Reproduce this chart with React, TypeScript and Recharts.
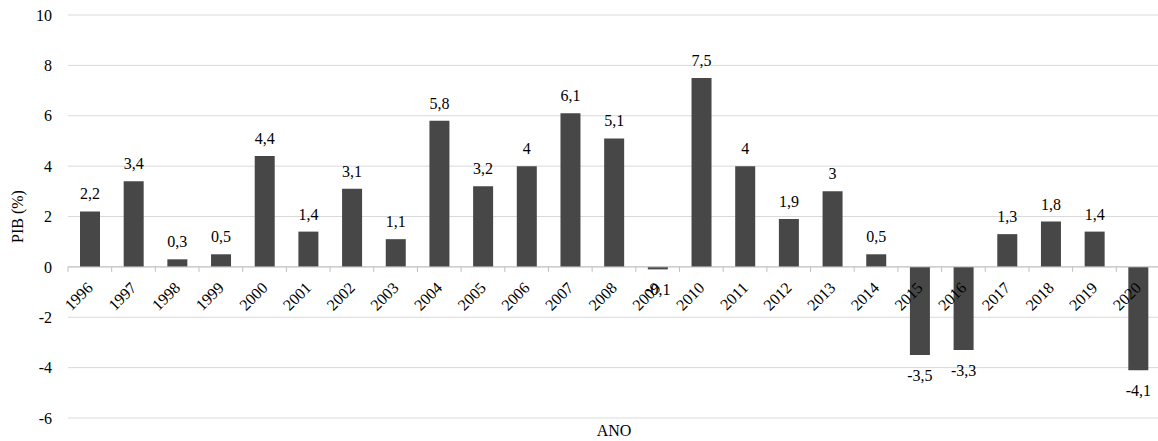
import { BarChart, Bar, XAxis, YAxis, CartesianGrid, ReferenceLine, LabelList } from 'recharts';

const ANOS = [
  '1996', '1997', '1998', '1999', '2000', '2001', '2002', '2003', '2004', '2005', '2006', '2007', '2008',
  '2009', '2010', '2011', '2012', '2013', '2014', '2015', '2016', '2017', '2018', '2019', '2020',
];
const PIB = [
  2.2, 3.4, 0.3, 0.5, 4.4, 1.4, 3.1, 1.1, 5.8, 3.2, 4, 6.1, 5.1,
  -0.1, 7.5, 4, 1.9, 3, 0.5, -3.5, -3.3, 1.3, 1.8, 1.4, -4.1,
];
const Y_TICKS = [-6, -4, -2, 0, 2, 4, 6, 8, 10];

const data = ANOS.map((ano, i) => ({ ano, pib: PIB[i] }));

const FONT = 'Liberation Serif';
const WIDTH = 1160;
const HEIGHT = 441;
const X_AXIS_H = 1;
const MARGIN = { top: 15, right: 0, bottom: 22, left: 0 };
const Y_AXIS_W = 68;
const Y_MIN = Y_TICKS[0];
const Y_MAX = Y_TICKS[Y_TICKS.length - 1];
const PLOT_H = HEIGHT - MARGIN.top - MARGIN.bottom - X_AXIS_H;
// category axis sits on the zero line, not at the bottom of the plot
const ZERO_Y = MARGIN.top + (PLOT_H * Y_MAX) / (Y_MAX - Y_MIN);
const BAND = (WIDTH - Y_AXIS_W - MARGIN.right) / ANOS.length;

const fmt = (v: number) => String(v).replace('.', ',');
const textStyle = { fontFamily: FONT, fontSize: 16, fill: '#000' };

function YearTick(props: any) {
  const { x, payload } = props;
  const tx = x + 4;
  const ty = ZERO_Y + 22;
  return (
    <g>
      <line x1={x - BAND / 2} x2={x - BAND / 2} y1={ZERO_Y} y2={ZERO_Y + 5} stroke="#bfbfbf" />
      <text x={tx} y={ty} transform={`rotate(-45, ${tx}, ${ty})`} textAnchor="end" style={textStyle}>
        {payload.value}
      </text>
    </g>
  );
}

function ValueLabel(props: any) {
  const { x, y, width, height, value } = props;
  const top = Math.min(y, y + height);
  const bottom = Math.max(y, y + height);
  const cx = x + width / 2;
  const ty = value < 0 ? bottom + 26 : top - 12;
  return (
    <text x={cx} y={ty} textAnchor="middle" style={textStyle}>
      {fmt(value)}
    </text>
  );
}

function YTitle(p: any) {
  const vb = p.viewBox;
  const lx = vb.x + 17;
  const ly = vb.y + vb.height / 2;
  return (
    <text x={lx} y={ly} transform={`rotate(-90, ${lx}, ${ly})`} textAnchor="middle" dominantBaseline="central" style={textStyle}>
      PIB (%)
    </text>
  );
}

function XTitle(p: any) {
  const vb = p.viewBox;
  return (
    <text x={vb.x + vb.width / 2} y={vb.y + 18} textAnchor="middle" style={textStyle}>
      ANO
    </text>
  );
}

export default function App() {
  return (
    <div style={{ position: 'absolute', left: 0, top: 0, width: 1158, height: HEIGHT, overflow: 'hidden', background: '#fff' }}>
      <BarChart width={WIDTH} height={HEIGHT} data={data} margin={MARGIN}>
        <CartesianGrid vertical={false} stroke="#d9d9d9" />
        <YAxis
          type="number"
          domain={[Y_MIN, Y_MAX]}
          ticks={Y_TICKS}
          width={Y_AXIS_W}
          axisLine={false}
          tickLine={false}
          tickSize={6}
          tickMargin={10}
          tick={textStyle}
          label={{ content: YTitle }}
        />
        <XAxis
          dataKey="ano"
          height={X_AXIS_H}
          axisLine={false}
          tickLine={false}
          interval={0}
          tick={YearTick}
          label={{ content: XTitle }}
        />
        <ReferenceLine y={0} stroke="#bfbfbf" />
        <Bar dataKey="pib" fill="#474747" barSize={20} isAnimationActive={false}>
          <LabelList dataKey="pib" content={ValueLabel} />
        </Bar>
      </BarChart>
    </div>
  );
}
